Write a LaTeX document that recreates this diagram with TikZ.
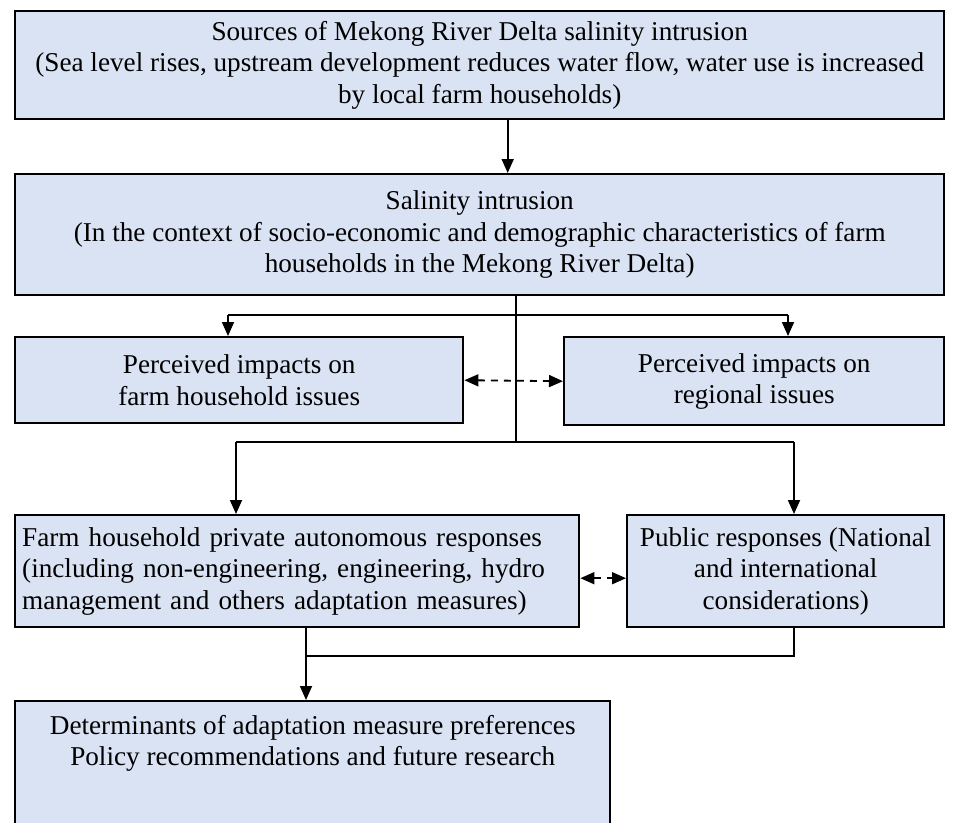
\documentclass[tikz,border=0pt]{standalone}
\usepackage{fontspec}
\setmainfont{Liberation Serif}
\usetikzlibrary{arrows.meta}
\definecolor{boxfill}{RGB}{218,227,243}

\begin{document}
\begin{tikzpicture}[x=1pt, y=-1pt,
	main node/.style={draw, line width=2.4pt, fill=boxfill, anchor=north west,
		inner sep=0pt, align=center, font=\fontsize{27.2}{31.3}\selectfont},
	main arrow/.style={line width=1.8pt, -{Triangle[length=14pt,width=12pt]}},
	thin link/.style={line width=1.1pt},
	both arrow/.style={line width=1.8pt, dash pattern=on 7pt off 6pt,
		{Triangle[length=14pt,width=12pt]}-{Triangle[length=14pt,width=12pt]}}]
	\useasboundingbox (0,0) rectangle (961,822);
	
	\node[main node, minimum width=929pt, minimum height=108pt] (1) at (14,10)
		{Sources of Mekong River Delta salinity intrusion\\(Sea level rises, upstream development reduces water flow, water use is increased\\by local farm households)};
	\node[main node, minimum width=929pt, minimum height=121pt] (2) at (14,173)
		{Salinity intrusion\\(In the context of socio-economic and demographic characteristics of farm\\households in the Mekong River Delta)};
	\node[main node, minimum width=448pt, minimum height=86pt] (3) at (14,336)
		{Perceived impacts on\\farm household issues};
	\node[main node, minimum width=380pt, minimum height=88pt] (4) at (563,336)
		{Perceived impacts on\\regional issues};
	\node[main node, minimum width=564pt, minimum height=112pt, text width=550pt, align=left] (5) at (14,514)
		{Farm household private autonomous responses\\(including non-engineering, engineering, hydro\\management and others adaptation measures)};
	\node[main node, minimum width=317pt, minimum height=112pt] (6) at (626,514)
		{Public responses (National\\and international\\considerations)};
	\node[main node, minimum width=595pt, minimum height=150pt] (7) at (14,700)
		{Determinants of adaptation measure preferences\\Policy recommendations and future research\\ \strut\\ \strut};
	
	\coordinate (t) at (516,442);
	\coordinate (l1) at (228,315);
	\coordinate (r1) at (788,315);
	\coordinate (l2) at (236,442);
	\coordinate (r2) at (794,442);
	\coordinate (mr) at (794,656);
	\coordinate (m) at (306,656);
	
	\draw[main arrow] ([xshift=28pt]1.south) -- ([xshift=28pt]2.north);
	\draw[thin link] (t |- 2.south) -- (t);
	\draw[thin link] (l1) -- (r1);
	\draw[main arrow] (l1) -- (l1 |- 3.north);
	\draw[main arrow] (r1) -- (r1 |- 4.north);
	\draw[both arrow] (3.east) -- (4.west);
	\draw[thin link] (l2) -- (r2);
	\draw[main arrow] (l2) -- (l2 |- 5.north);
	\draw[main arrow] (r2) -- (r2 |- 6.north);
	\draw[both arrow] ([yshift=-7pt]5.east) -- ([yshift=-7pt]6.west);
	\draw[thin link] (mr |- 6.south) -- (mr) -- (m);
	\draw[main arrow] (m |- 5.south) -- (m |- 7.north);
\end{tikzpicture}
\end{document}
